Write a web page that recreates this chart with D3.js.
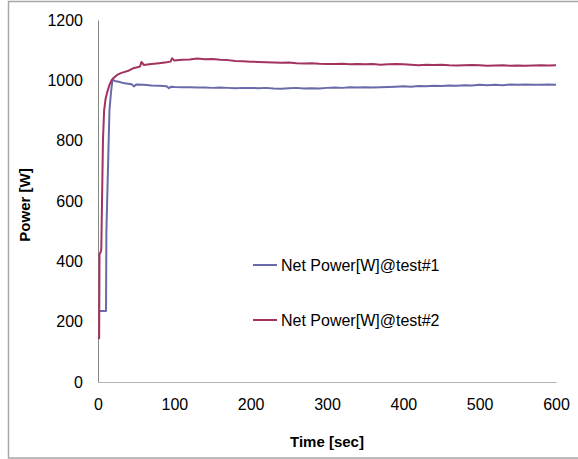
<!DOCTYPE html>
<html>
<head>
<meta charset="utf-8">
<script src="https://cdn.jsdelivr.net/npm/d3@7"></script>
<style>
  html, body { margin: 0; padding: 0; background: #fff; }
  svg { display: block; font-family: "Liberation Sans", Arial, sans-serif; }
</style>
</head>
<body>
<svg id="chart" width="578" height="459"></svg>
<script>
// Net power measured during two test runs
const seriesNames = ["Net Power[W]@test#1", "Net Power[W]@test#2"];
const seriesColors = ["#6a6aaa", "#a2325f"];

const timeTest1 = [0, 10.5, 11, 13, 14, 15, 17, 19, 22, 27, 35, 44, 47, 50,
  60, 70, 80, 90, 93, 96, 100, 110, 120, 130, 140, 150, 160, 170, 180, 190,
  200, 210, 220, 230, 240, 250, 260, 270, 280, 290, 300, 310, 320, 330, 340,
  350, 360, 370, 380, 390, 400, 410, 420, 430, 440, 450, 460, 470, 480, 490,
  500, 510, 520, 530, 540, 550, 560, 570, 580, 590, 600];
const powerTest1 = [235, 235, 500, 700, 800, 900, 960, 1002, 998, 995, 990, 987, 980, 986,
  985, 983, 982, 980, 974, 979, 978, 977, 977, 976, 976, 975, 976, 975, 974, 975,
  975, 974, 975, 973, 972, 974, 975, 973, 974, 973, 975, 976, 975, 977, 976,
  977, 976, 977, 978, 979, 980, 979, 981, 980, 982, 981, 983, 982, 984, 983,
  985, 984, 985, 984, 986, 985, 986, 985, 985, 986, 985];

const timeTest2 = [0, 1.5, 2, 3.5, 4.3, 6.5, 8, 10, 12, 15, 18, 20, 25, 30, 35, 40,
  46, 53, 55, 57, 60, 70, 80, 90, 95, 97, 100, 110, 120, 130, 140, 150, 160,
  170, 180, 190, 200, 210, 220, 230, 240, 250, 260, 270, 280, 290, 300, 310,
  320, 330, 340, 350, 360, 370, 380, 390, 400, 410, 420, 430, 440, 450, 460,
  470, 480, 490, 500, 510, 520, 530, 540, 550, 560, 570, 580, 590, 600];
const powerTest2 = [145, 145, 425, 430, 440, 800, 900, 940, 960, 985, 1001, 1007, 1018, 1024, 1028, 1032,
  1040, 1044, 1046, 1061, 1051, 1054, 1057, 1060, 1062, 1073, 1066, 1068, 1069, 1072, 1070, 1071, 1068,
  1067, 1064, 1063, 1062, 1061, 1060, 1059, 1058, 1059, 1057, 1056, 1057, 1055, 1054, 1054,
  1055, 1053, 1054, 1053, 1054, 1052, 1053, 1054, 1053, 1052, 1050, 1052, 1051, 1052, 1050,
  1049, 1050, 1051, 1050, 1048, 1049, 1050, 1048, 1049, 1048, 1049, 1050, 1049, 1050];

const xTicks = [0, 100, 200, 300, 400, 500, 600];
const yTicks = [0, 200, 400, 600, 800, 1000, 1200];
const xTitle = "Time [sec]";
const yTitle = "Power [W]";

const svg = d3.select("#chart");

// outer chart frame
svg.append("rect")
  .attr("x", 8.5).attr("y", 1.5)
  .attr("width", 620).attr("height", 456.5)
  .attr("fill", "none").attr("stroke", "#a6a6a6").attr("stroke-width", 1.5);

const x = d3.scaleLinear().domain([0, 600]).range([98, 556]);
const y = d3.scaleLinear().domain([0, 1200]).range([382, 20]);
const fmt = d3.format("d");

// y axis
const yAxis = svg.append("g")
  .attr("transform", "translate(98,0)")
  .call(d3.axisLeft(y).tickValues(yTicks).tickFormat(fmt)
    .tickSizeInner(0).tickSizeOuter(0).tickPadding(15));
yAxis.select(".domain").attr("stroke", "#868686").attr("stroke-width", 1);
yAxis.selectAll("text").attr("font-size", 16).attr("fill", "#000")
  .attr("font-family", "Liberation Sans, Arial, sans-serif");

// x axis
const xAxis = svg.append("g")
  .attr("transform", "translate(0,382)")
  .call(d3.axisBottom(x).tickValues(xTicks).tickFormat(fmt)
    .tickSizeInner(0).tickSizeOuter(0).tickPadding(17));
xAxis.select(".domain").attr("stroke", "#b4b4b4").attr("stroke-width", 1.2);
xAxis.selectAll("text").attr("font-size", 16).attr("fill", "#000")
  .attr("font-family", "Liberation Sans, Arial, sans-serif");

// axis titles
svg.append("text")
  .attr("x", 327).attr("y", 447)
  .attr("text-anchor", "middle")
  .attr("font-size", 15).attr("font-weight", "bold")
  .text(xTitle);

svg.append("text")
  .attr("transform", "translate(30,205) rotate(-90)")
  .attr("text-anchor", "middle")
  .attr("font-size", 15).attr("font-weight", "bold")
  .text(yTitle);

// data lines
const line = d3.line().x(d => x(d[0])).y(d => y(d[1]));
const series = [
  d3.zip(timeTest1, powerTest1),
  d3.zip(timeTest2, powerTest2)
];

series.forEach((pts, i) => {
  svg.append("path")
    .datum(pts)
    .attr("fill", "none")
    .attr("stroke", seriesColors[i])
    .attr("stroke-width", 2)
    .attr("stroke-linejoin", "round")
    .attr("d", line);
});

// legend
const legendY = [265, 320];
seriesNames.forEach((name, i) => {
  const g = svg.append("g").attr("transform", `translate(253,${legendY[i]})`);
  g.append("line")
    .attr("x1", 0).attr("x2", 24).attr("y1", 0).attr("y2", 0)
    .attr("stroke", seriesColors[i]).attr("stroke-width", 2);
  g.append("text")
    .attr("x", 28).attr("y", 6)
    .attr("font-size", 16).attr("fill", "#000")
    .text(name);
});
</script>
</body>
</html>
